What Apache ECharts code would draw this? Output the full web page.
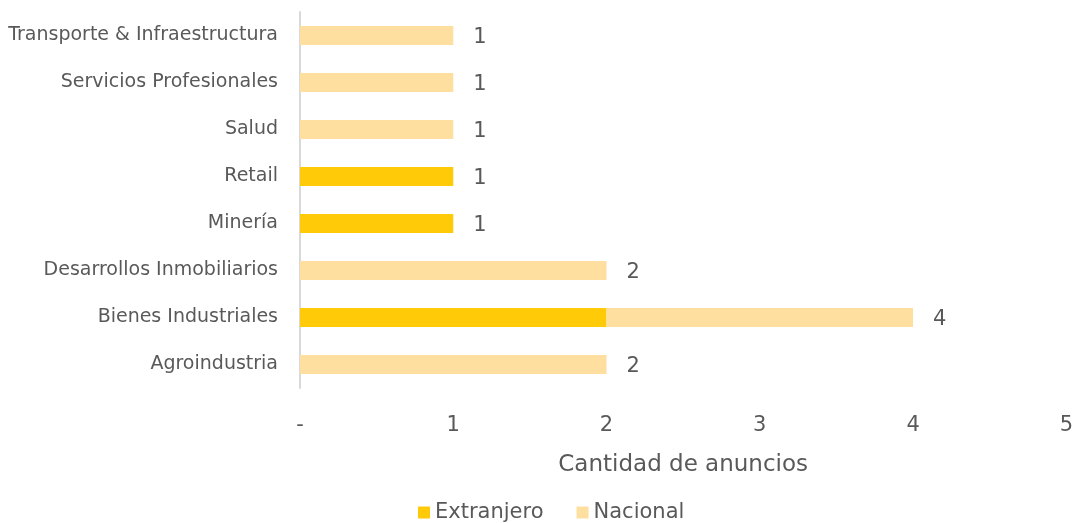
<!DOCTYPE html>
<html>
<head>
<meta charset="utf-8">
<script src="https://cdn.jsdelivr.net/npm/echarts@6/dist/echarts.min.js"></script>
<style>
  html, body { margin: 0; padding: 0; background: #fff; }
  #chart { width: 1076px; height: 523px; }
</style>
</head>
<body>
<div id="chart"></div>
<script>
// datos (de abajo hacia arriba)
var sectores = ['Agroindustria', 'Bienes Industriales', 'Desarrollos Inmobiliarios', 'Minería',
  'Retail', 'Salud', 'Servicios Profesionales', 'Transporte & Infraestructura'];
var extranjero = [0, 2, 0, 1, 1, 0, 0, 0];
var nacional = [2, 2, 2, 0, 0, 1, 1, 1];
var totales = [2, 4, 2, 1, 1, 1, 1, 1];
var ticksX = [0, 1, 2, 3, 4, 5];

var fuente = 'DejaVu Sans';
var gris = '#595959';
var chart = echarts.init(document.getElementById('chart'));

var option = {
  animation: false,
  textStyle: { fontFamily: fuente, color: gris },
  grid: { left: 300, right: 7, top: 12, bottom: 135 },
  legend: {
    data: ['Extranjero', 'Nacional'],
    bottom: -5,
    left: 413,
    icon: 'rect',
    itemWidth: 12,
    itemHeight: 12,
    itemGap: 33,
    textStyle: { fontFamily: fuente, fontSize: 21, color: gris }
  },
  xAxis: {
    type: 'value',
    min: ticksX[0],
    max: ticksX[ticksX.length - 1],
    interval: 1,
    name: 'Cantidad de anuncios',
    nameLocation: 'middle',
    nameGap: 66,
    nameTextStyle: { fontFamily: fuente, fontSize: 23, color: gris },
    axisLine: { show: false },
    axisTick: { show: false },
    splitLine: { show: false },
    axisLabel: {
      margin: 27,
      fontSize: 21,
      color: gris,
      formatter: function (v) { return v === 0 ? '-' : v; }
    }
  },
  yAxis: {
    type: 'category',
    data: sectores,
    axisLine: { show: true, lineStyle: { color: '#d9d9d9', width: 2 } },
    axisTick: { show: false },
    axisLabel: { margin: 22, fontSize: 19, color: gris, padding: [4, 0, 0, 0] }
  },
  series: [
    {
      name: 'Extranjero',
      type: 'bar',
      stack: 'total',
      barWidth: 19,
      itemStyle: { color: '#ffcb08' },
      data: extranjero
    },
    {
      name: 'Nacional',
      type: 'bar',
      stack: 'total',
      barWidth: 19,
      itemStyle: { color: '#ffdfa0' },
      label: {
        show: true,
        position: 'right',
        distance: 20,
        fontSize: 21,
        color: gris,
        offset: [0, 2],
        formatter: function (p) { return totales[p.dataIndex]; }
      },
      data: nacional
    }
  ]
};
chart.setOption(option);
</script>
</body>
</html>
